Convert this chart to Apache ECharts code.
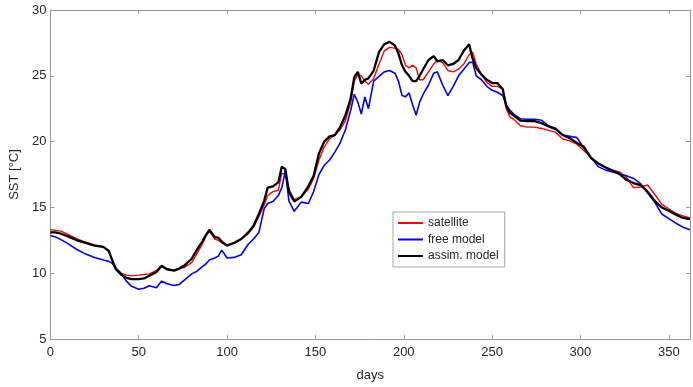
<!DOCTYPE html>
<html>
<head>
<meta charset="utf-8">
<script src="https://cdn.jsdelivr.net/npm/echarts@6/dist/echarts.min.js"></script>
<style>html,body{margin:0;padding:0;background:#fff}#c{width:693px;height:387px}</style>
</head>
<body>
<div id="c"></div>
<script>
const days = [0,3,6,10,15,20,25,30,33,35,37,40,43,46,50,53,56,60,63,66,70,73,76,80,83,86,88,90,93,95,97,100,104,108,112,115,118,121,123,126,129,131,133,135,138,142,146,149,152,155,158,161,164,167,170,172,174,176,178,180,183,186,189,192,195,197,199,201,203,205,207,209,211,214,217,219,222,225,228,231,234,237,239,241,244,247,250,253,256,258,260,263,266,270,274,278,282,286,290,294,298,302,306,310,314,318,322,326,330,334,338,342,346,350,354,358,362];

const satellite = [13.3,13.25,13.2,12.95,12.6,12.35,12.15,12.0,11.7,11.0,10.4,10.0,9.85,9.8,9.85,9.9,9.95,10.2,10.6,10.3,10.25,10.35,10.45,10.8,11.5,12.2,12.8,13.2,12.6,12.5,12.3,12.1,12.3,12.6,13.0,13.5,14.3,15.2,15.9,16.2,16.3,17.6,17.5,16.4,15.6,15.8,16.4,17.2,18.6,19.6,20.2,20.5,20.9,21.6,23.0,24.6,25.1,25.0,24.6,24.35,24.8,25.9,26.9,27.16,27.1,27.0,26.6,25.8,25.6,25.8,25.6,24.7,24.7,25.3,25.9,26.18,26.0,25.4,25.3,25.5,25.9,26.6,26.8,25.9,25.1,24.5,24.2,24.2,24.0,22.5,21.9,21.6,21.2,21.1,21.1,21.0,20.85,20.7,20.2,20.05,19.8,19.3,18.8,18.35,18.05,17.85,17.7,17.3,16.5,16.55,16.7,16.0,15.25,14.9,14.55,14.35,14.2];

const freeModel = [12.86,12.75,12.55,12.25,11.8,11.45,11.2,11.0,10.9,10.75,10.4,10.0,9.4,9.0,8.78,8.85,9.05,8.9,9.4,9.2,9.07,9.15,9.5,9.95,10.15,10.5,10.7,11.0,11.15,11.3,11.75,11.15,11.2,11.4,12.2,12.6,13.1,14.9,15.3,15.45,15.9,16.5,17.8,15.5,14.7,15.4,15.3,16.2,17.5,18.2,18.6,19.2,19.9,20.9,22.4,23.6,23.0,22.1,23.4,22.5,24.6,24.95,25.3,25.4,25.2,24.6,23.5,23.4,23.7,22.8,22.0,23.0,23.6,24.3,25.2,25.3,24.3,23.5,24.2,25.0,25.5,26.0,26.05,25.0,24.7,24.2,23.9,23.75,23.5,22.8,22.4,22.0,21.74,21.7,21.7,21.62,21.2,21.0,20.5,20.4,20.3,19.5,18.8,18.1,17.85,17.7,17.55,17.4,17.2,16.8,16.1,15.4,14.5,14.15,13.8,13.5,13.3];

const assimModel = [13.1,13.1,13.0,12.8,12.5,12.3,12.1,12.0,11.7,11.0,10.3,9.9,9.65,9.55,9.55,9.6,9.8,10.1,10.55,10.3,10.2,10.35,10.6,11.1,11.8,12.4,12.9,13.3,12.75,12.7,12.4,12.1,12.3,12.6,13.1,13.6,14.5,15.5,16.5,16.6,16.9,18.1,17.9,16.2,15.45,15.8,16.6,17.4,19.1,20.0,20.4,20.5,21.1,22.0,23.3,24.9,25.3,24.4,24.7,24.8,25.4,26.8,27.4,27.58,27.3,26.7,25.8,25.3,25.0,24.6,24.6,25.0,25.5,26.2,26.5,26.1,26.2,25.8,25.9,26.2,26.9,27.4,26.3,25.6,25.1,24.7,24.45,24.45,24.0,22.7,22.2,21.9,21.6,21.55,21.55,21.4,21.15,20.95,20.5,20.25,19.9,19.6,18.75,18.35,18.05,17.8,17.55,17.1,16.85,16.7,16.2,15.5,15.0,14.75,14.45,14.2,14.1];

const xTicks = [0,50,100,150,200,250,300,350];
const yTicks = [5,10,15,20,25,30];
const seriesNames = ['satellite','free model','assim. model'];

const pairs = arr => days.map((d,i)=>[d,arr[i]]);
const font = 'Liberation Sans, Arial, Helvetica, sans-serif';
const axisGray = '#9a9a9a';
const txt = '#262626';

const chart = echarts.init(document.getElementById('c'), null, {renderer:'canvas'});
const xBase = {
  type:'value', min:0, max:362, interval:50,
  axisLine:{show:true, onZero:false, lineStyle:{color:axisGray, width:1}},
  axisTick:{show:true, inside:true, length:4, lineStyle:{color:axisGray}},
  splitLine:{show:false}
};
const yBase = {
  type:'value', min:5, max:30, interval:5,
  axisLine:{show:true, onZero:false, lineStyle:{color:axisGray, width:1}},
  axisTick:{show:true, inside:true, length:4, lineStyle:{color:axisGray}},
  splitLine:{show:false}
};
chart.setOption({
  animation:false,
  backgroundColor:'#fff',
  textStyle:{fontFamily:font},
  grid:{left:49, top:10, right:1, bottom:39, containLabel:false},
  xAxis:[
    Object.assign({}, xBase, {position:'bottom', name:'days', nameLocation:'middle', nameGap:30,
      nameTextStyle:{color:txt, fontSize:13, fontFamily:font},
      axisLabel:{color:txt, fontSize:13, fontFamily:font, margin:7,
        formatter: v => xTicks.includes(v) ? String(v) : ''}}),
    Object.assign({}, xBase, {position:'top', axisLabel:{show:false}})
  ],
  yAxis:[
    Object.assign({}, yBase, {position:'left', name:'SST [°C]', nameLocation:'middle', nameGap:28,
      nameTextStyle:{color:txt, fontSize:13, fontFamily:font},
      axisLabel:{color:txt, fontSize:13, fontFamily:font, margin:4,
        formatter: v => yTicks.includes(v) ? String(v) : ''}}),
    Object.assign({}, yBase, {position:'right', axisLabel:{show:false}})
  ],
  legend:{
    left:393, top:212, orient:'vertical',
    data:seriesNames,
    icon:'rect',
    backgroundColor:'#fff', borderColor:'#a8a8a8', borderWidth:1, borderRadius:0,
    padding:[5,6,5,5], itemWidth:25, itemHeight:2, itemGap:4.5,
    textStyle:{color:txt, fontSize:12, fontFamily:font}
  },
  series:[
    {name:seriesNames[0], type:'line', data:pairs(satellite), symbol:'none', showSymbol:false,
      lineStyle:{color:'#ff0000', width:1.4}, itemStyle:{color:'#ff0000'}, z:2},
    {name:seriesNames[1], type:'line', data:pairs(freeModel), symbol:'none', showSymbol:false,
      lineStyle:{color:'#0000ff', width:1.6}, itemStyle:{color:'#0000ff'}, z:3},
    {name:seriesNames[2], type:'line', data:pairs(assimModel), symbol:'none', showSymbol:false,
      lineStyle:{color:'#000000', width:2.3}, itemStyle:{color:'#000000'}, z:4}
  ]
});
</script>
</body>
</html>
